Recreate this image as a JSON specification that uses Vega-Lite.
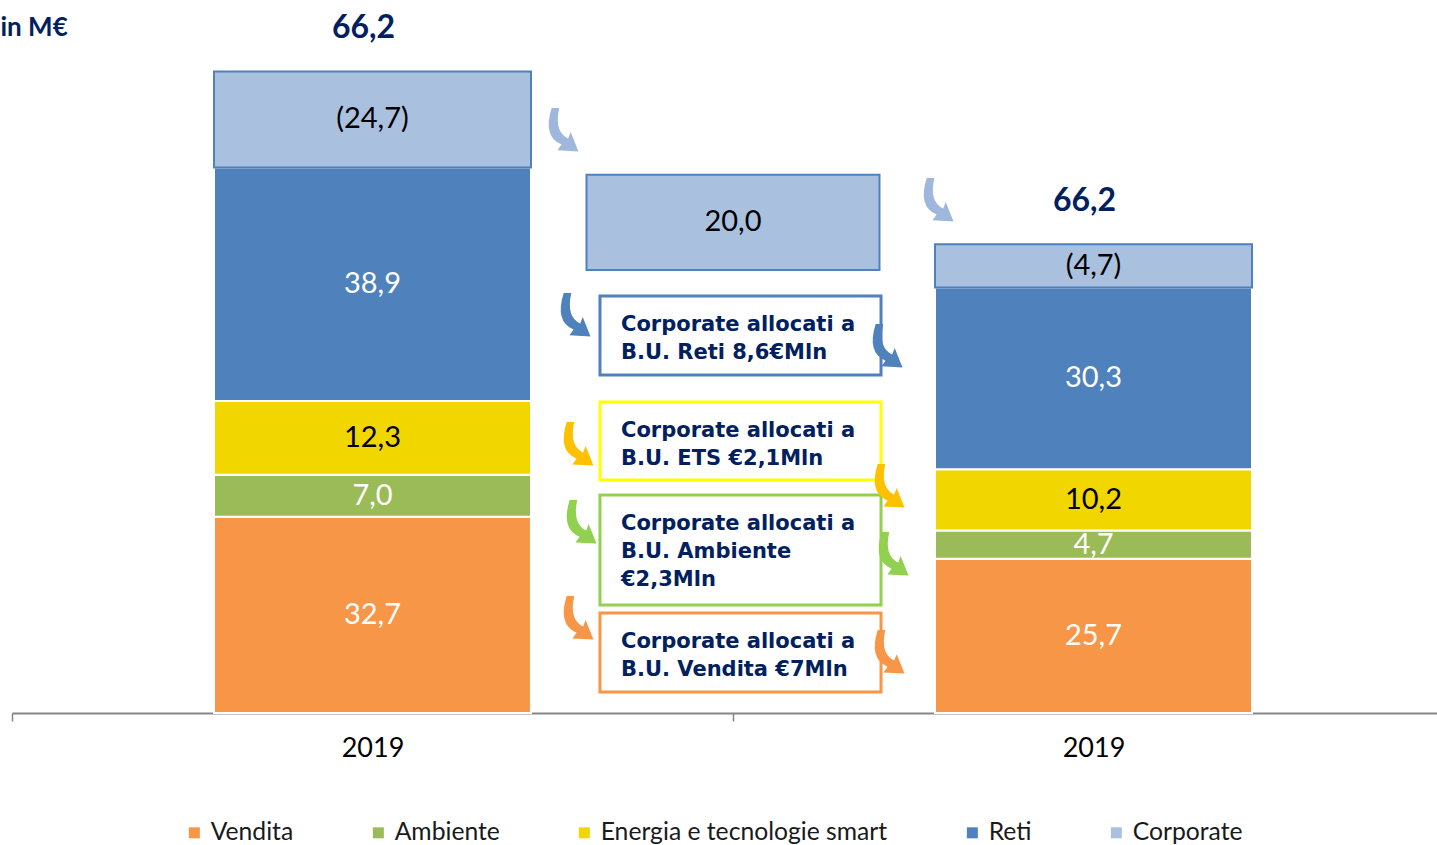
{
  "$schema": "https://vega.github.io/schema/vega-lite/v6.json",
  "autosize": {"type": "none"},
  "padding": {"left": 12, "top": 0, "right": 0, "bottom": 132},
  "width": 1442,
  "height": 713,
  "background": "white",
  "config": {"view": {"stroke": null}, "font": "Lato"},
  "datasets": {
    "stack": [
      {"bar": "L", "slot": 0.5, "segment": "Vendita", "ord": 1, "amount": 32.7, "label": "32,7", "total": ""},
      {"bar": "L", "slot": 0.5, "segment": "Ambiente", "ord": 2, "amount": 7.0, "label": "7,0", "total": ""},
      {"bar": "L", "slot": 0.5, "segment": "Energia e tecnologie smart", "ord": 3, "amount": 12.3, "label": "12,3", "total": ""},
      {"bar": "L", "slot": 0.5, "segment": "Reti", "ord": 4, "amount": 38.9, "label": "38,9", "total": ""},
      {"bar": "L", "slot": 0.5, "segment": "Corporate", "ord": 5, "amount": 16.0, "label": "(24,7)", "total": "66,2"},
      {"bar": "R", "slot": 1.5, "segment": "Vendita", "ord": 1, "amount": 25.7, "label": "25,7", "total": ""},
      {"bar": "R", "slot": 1.5, "segment": "Ambiente", "ord": 2, "amount": 4.7, "label": "4,7", "total": ""},
      {"bar": "R", "slot": 1.5, "segment": "Energia e tecnologie smart", "ord": 3, "amount": 10.2, "label": "10,2", "total": ""},
      {"bar": "R", "slot": 1.5, "segment": "Reti", "ord": 4, "amount": 30.3, "label": "30,3", "total": ""},
      {"bar": "R", "slot": 1.5, "segment": "Corporate", "ord": 5, "amount": 7.2, "label": "(4,7)", "total": "66,2"}
    ],
    "middle": [
      {"slot": 1, "segment": "Corporate", "lo": 73.8, "hi": 89.7, "label": "20,0"}
    ],
    "callouts": [
      {"box": "Reti", "x1": 0.8155, "x2": 1.2053, "lo": 56.33, "hi": 69.5, "lines": ["Corporate allocati a", "B.U. Reti 8,6€Mln"]},
      {"box": "ETS", "x1": 0.8155, "x2": 1.2053, "lo": 38.83, "hi": 51.83, "lines": ["Corporate allocati a", "B.U. ETS €2,1Mln"]},
      {"box": "Ambiente", "x1": 0.8155, "x2": 1.2053, "lo": 18.0, "hi": 36.33, "lines": ["Corporate allocati a", "B.U. Ambiente", "€2,3Mln"]},
      {"box": "Vendita", "x1": 0.8155, "x2": 1.2053, "lo": 3.5, "hi": 16.67, "lines": ["Corporate allocati a", "B.U. Vendita €7Mln"]}
    ],
    "arrows": [
      {"ax": 0.7628, "ay": 97.0, "tone": "Corporate"},
      {"ax": 1.283, "ay": 85.33, "tone": "Corporate"},
      {"ax": 0.7795, "ay": 66.17, "tone": "Reti"},
      {"ax": 1.2122, "ay": 61.0, "tone": "Reti"},
      {"ax": 0.7836, "ay": 44.67, "tone": "ETS"},
      {"ax": 1.215, "ay": 37.67, "tone": "ETS"},
      {"ax": 0.7878, "ay": 31.67, "tone": "Ambiente"},
      {"ax": 1.2205, "ay": 26.33, "tone": "Ambiente"},
      {"ax": 0.7836, "ay": 15.67, "tone": "Vendita"},
      {"ax": 1.215, "ay": 10.0, "tone": "Vendita"}
    ]
  },
  "layer": [
    {
      "data": {"name": "stack"},
      "mark": {"type": "bar", "orient": "vertical", "width": 317, "strokeWidth": 2},
      "encoding": {
        "x": {
          "field": "slot", "type": "quantitative",
          "scale": {"domain": [0, 2], "nice": false, "zero": false, "padding": 0},
          "axis": {
            "values": [0, 1, 2],
            "labelExpr": "datum.value < 2 ? '2019' : ''",
            "labelOffset": 360.5,
            "title": null,
            "grid": false,
            "tickSize": 8,
            "tickColor": "#868686",
            "tickWidth": 1.5,
            "domainColor": "#868686",
            "domainWidth": 2,
            "labelFont": "Lato",
            "labelFontSize": 27,
            "labelColor": "#000000",
            "labelPadding": 14,
            "labelFlush": false,
            "labelOverlap": false
          }
        },
        "y": {
          "field": "amount", "type": "quantitative", "stack": "zero",
          "scale": {"domain": [0, 118.8], "nice": false, "zero": true, "padding": 0},
          "axis": {
            "domain": false, "ticks": false, "labels": false, "grid": false,
            "title": "in M€", "titleAngle": 0, "titleX": -12, "titleY": 27,
            "titleAlign": "left", "titleBaseline": "middle",
            "titleFont": "Lato", "titleFontSize": 26, "titleFontWeight": "bold", "titleColor": "#002060"
          }
        },
        "color": {
          "field": "segment", "type": "nominal",
          "scale": {
            "domain": ["Vendita", "Ambiente", "Energia e tecnologie smart", "Reti", "Corporate"],
            "range": ["#f79646", "#9bbb59", "#f2d600", "#4f81bd", "#a9c1df"]
          },
          "legend": {
            "orient": "none", "legendX": 170, "legendY": 820,
            "direction": "horizontal", "title": null,
            "symbolType": "square", "symbolSize": 121, "symbolStrokeWidth": 0,
            "labelFont": "Lato", "labelFontSize": 24.7, "labelColor": "#1a1a1a", "labelLimit": 0,
            "labelOffset": 4, "columnPadding": 72, "padding": 0
          }
        },
        "order": {"field": "ord", "type": "quantitative"},
        "stroke": {
          "condition": {"test": "datum.segment === 'Corporate'", "value": "#4f81bd"},
          "value": "#ffffff"
        }
      }
    },
    {
      "data": {"name": "stack"},
      "mark": {"type": "text", "font": "Lato", "fontSize": 29, "baseline": "middle", "align": "center"},
      "encoding": {
        "x": {"field": "slot", "type": "quantitative"},
        "y": {"field": "amount", "type": "quantitative", "stack": "zero", "bandPosition": 0.5},
        "detail": {"field": "segment"},
        "order": {"field": "ord", "type": "quantitative"},
        "text": {"field": "label"},
        "color": {
          "condition": {"test": "datum.segment === 'Energia e tecnologie smart' || datum.segment === 'Corporate'", "value": "#000000"},
          "value": "#ffffff"
        }
      }
    },
    {
      "data": {"name": "stack"},
      "mark": {"type": "text", "font": "Lato", "fontSize": 32, "fontWeight": "bold", "color": "#002060", "baseline": "alphabetic", "align": "center", "dx": -9, "dy": -33},
      "encoding": {
        "x": {"field": "slot", "type": "quantitative"},
        "y": {"field": "amount", "type": "quantitative", "stack": "zero"},
        "detail": {"field": "segment"},
        "order": {"field": "ord", "type": "quantitative"},
        "text": {"field": "total"}
      }
    },
    {
      "data": {"name": "middle"},
      "mark": {"type": "bar", "orient": "vertical", "width": 293, "stroke": "#4f81bd", "strokeWidth": 2},
      "encoding": {
        "x": {"field": "slot", "type": "quantitative"},
        "y": {"field": "hi", "type": "quantitative"},
        "y2": {"field": "lo"},
        "color": {"field": "segment", "type": "nominal"}
      }
    },
    {
      "data": {"name": "middle"},
      "mark": {"type": "text", "font": "Lato", "fontSize": 29, "color": "#000000", "baseline": "middle", "align": "center", "dy": 47.5},
      "encoding": {
        "x": {"field": "slot", "type": "quantitative"},
        "y": {"field": "hi", "type": "quantitative"},
        "text": {"field": "label"}
      }
    },
    {
      "data": {"name": "callouts"},
      "mark": {"type": "rect", "fill": "#ffffff", "strokeWidth": 3},
      "encoding": {
        "x": {"field": "x1", "type": "quantitative"},
        "x2": {"field": "x2"},
        "y": {"field": "hi", "type": "quantitative"},
        "y2": {"field": "lo"},
        "stroke": {
          "field": "box", "type": "nominal",
          "scale": {"domain": ["Reti", "ETS", "Ambiente", "Vendita"], "range": ["#4f81bd", "#ffff00", "#92d050", "#f79646"]},
          "legend": null
        }
      }
    },
    {
      "data": {"name": "callouts"},
      "mark": {"type": "text", "font": "DejaVu Sans", "fontSize": 21, "fontWeight": "bold", "color": "#002060", "align": "left", "baseline": "top", "dx": 21, "dy": 18, "lineHeight": 28},
      "encoding": {
        "x": {"field": "x1", "type": "quantitative"},
        "y": {"field": "hi", "type": "quantitative"},
        "text": {"field": "lines"}
      }
    },
    {
      "data": {"name": "arrows"},
      "mark": {
        "type": "point", "filled": true, "opacity": 1, "size": 2100, "strokeWidth": 0,
        "shape": "M -0.45 -1 Q -0.85 0.25 -0.02 0.6 L -0.2 0.85 L 0.72 0.9 L 0.38 0.05 L 0.27 0.33 Q -0.35 0.05 -0.12 -1 Z"
      },
      "encoding": {
        "x": {"field": "ax", "type": "quantitative"},
        "y": {"field": "ay", "type": "quantitative"},
        "fill": {
          "field": "tone", "type": "nominal",
          "scale": {"domain": ["Corporate", "Reti", "ETS", "Ambiente", "Vendita"], "range": ["#9fb7dc", "#4f81bd", "#ffc000", "#92d050", "#f79646"]},
          "legend": null
        }
      }
    }
  ]
}
